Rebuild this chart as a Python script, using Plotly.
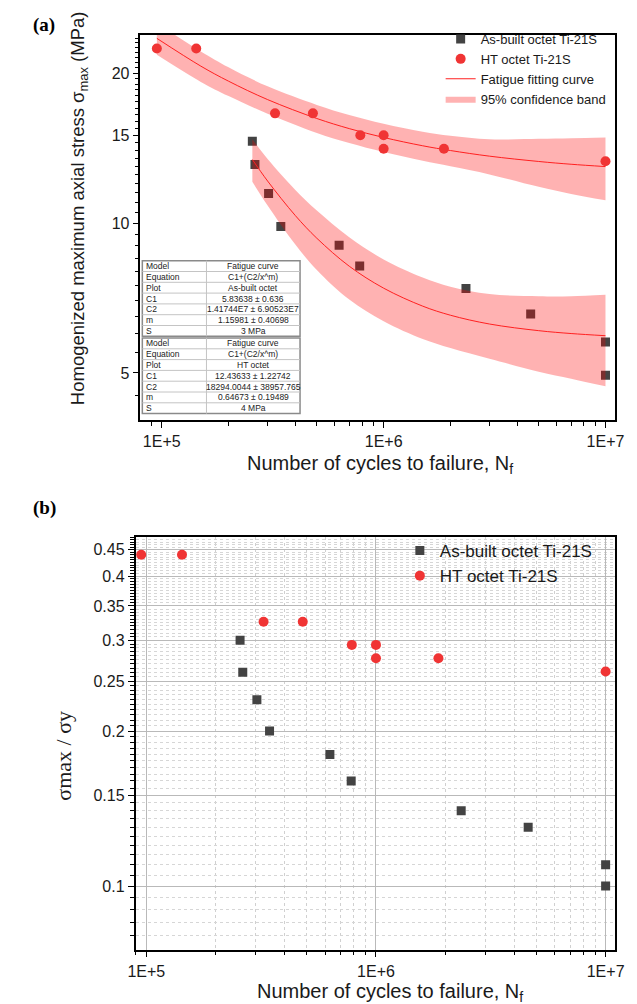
import numpy as np
import plotly.graph_objects as go

# ---------------- data ----------------
# Panel (a): homogenized maximum axial stress (MPa) vs cycles
N_asbuilt = [2.56e5, 2.63e5, 3.03e5, 3.44e5, 6.3e5, 7.8e5, 2.35e6, 4.6e6, 1.0e7, 1.0e7]
S_asbuilt = [14.6, 13.1, 11.46, 9.84, 9.02, 8.2, 7.39, 6.57, 5.77, 4.95]
N_ht = [9.5e4, 1.43e5, 3.24e5, 4.8e5, 7.85e5, 1.0e6, 1.0e6, 1.87e6, 1.0e7]
S_ht = [22.4, 22.4, 16.6, 16.6, 15.0, 15.0, 14.1, 14.1, 13.3]

# fitted curves and 95% confidence bands
Nfit_ab = [2.56e5, 3e5, 4e5, 5e5, 7e5, 1e6, 1.5e6, 2e6, 3e6, 5e6, 7e6, 1e7]
fit_ab = [13.41, 12.14, 10.35, 9.32, 8.19, 7.40, 6.81, 6.53, 6.27, 6.08, 6.00, 5.94]
up_ab = [14.72, 13.44, 11.65, 10.59, 9.36, 8.45, 7.77, 7.45, 7.20, 7.13, 7.13, 7.18]
lo_ab = [12.10, 10.84, 9.05, 8.05, 7.02, 6.35, 5.85, 5.61, 5.34, 5.03, 4.87, 4.70]

Nfit_ht = [9.5e4, 1.5e5, 2e5, 3e5, 5e5, 7e5, 1e6, 1.5e6, 2e6, 3e6, 5e6, 7e6, 1e7]
fit_ht = [23.48, 20.65, 19.26, 17.69, 16.21, 15.47, 14.85, 14.29, 13.98, 13.62, 13.29, 13.12, 12.98]
up_ht = [25.20, 22.10, 20.54, 18.81, 17.26, 16.47, 15.82, 15.25, 14.96, 14.72, 14.76, 14.80, 14.85]
lo_ht = [21.76, 19.20, 17.98, 16.57, 15.16, 14.47, 13.88, 13.33, 13.00, 12.52, 11.82, 11.44, 11.11]

# Panel (b): normalized stress sigma_max / sigma_y
R_asbuilt = [0.300, 0.260, 0.230, 0.200, 0.180, 0.160, 0.140, 0.130, 0.110, 0.100]
R_ht = [0.440, 0.440, 0.326, 0.326, 0.294, 0.294, 0.277, 0.277, 0.261]

# table contents
table_keys = ["Model", "Equation", "Plot", "C1", "C2", "m", "S"]
table_ab = ["Fatigue curve", "C1+(C2/x^m)", "As-built octet", "5.83638 \u00b1 0.636",
            "1.41744E7 \u00b1 6.90523E7", "1.15981 \u00b1 0.40698", "3 MPa"]
table_ht = ["Fatigue curve", "C1+(C2/x^m)", "HT octet", "12.43633 \u00b1 1.22742",
            "18294.0044 \u00b1 38957.765", "0.64673 \u00b1 0.19489", "4 MPa"]

# ticks
x_tickvals = [1e5, 1e6, 1e7]
x_ticktext = ["1E+5", "1E+6", "1E+7"]
x_minor = [m * 10 ** e for e in (4, 5, 6) for m in range(2, 10)]
ya_tickvals = [5, 10, 15, 20]
ya_minor = [v for v in np.arange(4.0, 24.01, 0.5) if v not in ya_tickvals]
yb_tickvals = [0.1, 0.15, 0.2, 0.25, 0.3, 0.35, 0.4, 0.45]
yb_ticktext = ["0.1", "0.15", "0.2", "0.25", "0.3", "0.35", "0.4", "0.45"]
yb_minor = [round(v, 3) for v in np.arange(0.075, 0.4801, 0.005)
            if all(abs(v - t) > 1e-6 for t in yb_tickvals)]

# ---------------- layout helpers ----------------
W, H = 637, 1004
def px(x):
    return x / W
def py(y):
    return 1 - y / H

SQ = "#434343"
RD = "rgb(240,52,52)"
BAND = "rgba(255,0,0,0.30)"
FONT = "Liberation Sans, Arial, sans-serif"
SERIF = "Liberation Serif, Times New Roman, serif"

fig = go.Figure()

# ---- panel (a) ----
fig.add_trace(go.Scatter(x=N_asbuilt, y=S_asbuilt, mode="markers", name="As-built octet Ti-21S",
                         marker=dict(symbol="square", size=9, color=SQ), legendrank=1,
                         xaxis="x", yaxis="y", legend="legend"))
fig.add_trace(go.Scatter(x=Nfit_ab, y=lo_ab, mode="lines", line=dict(width=0, shape="spline"),
                         showlegend=False, xaxis="x", yaxis="y", hoverinfo="skip"))
fig.add_trace(go.Scatter(x=Nfit_ab, y=up_ab, mode="lines", line=dict(width=0, shape="spline"),
                         fill="tonexty", fillcolor=BAND, name="95% confidence band", legendrank=4,
                         xaxis="x", yaxis="y", legend="legend"))
fig.add_trace(go.Scatter(x=Nfit_ht, y=lo_ht, mode="lines", line=dict(width=0, shape="spline"),
                         showlegend=False, xaxis="x", yaxis="y", hoverinfo="skip"))
fig.add_trace(go.Scatter(x=Nfit_ht, y=up_ht, mode="lines", line=dict(width=0, shape="spline"),
                         fill="tonexty", fillcolor=BAND, showlegend=False,
                         xaxis="x", yaxis="y"))
fig.add_trace(go.Scatter(x=Nfit_ab, y=fit_ab, mode="lines", name="Fatigue fitting curve",
                         line=dict(color="#FF2020", width=1, shape="spline"), legendrank=3,
                         xaxis="x", yaxis="y", legend="legend"))
fig.add_trace(go.Scatter(x=Nfit_ht, y=fit_ht, mode="lines", showlegend=False,
                         line=dict(color="#FF2020", width=1, shape="spline"),
                         xaxis="x", yaxis="y"))
fig.add_trace(go.Scatter(x=N_ht, y=S_ht, mode="markers", name="HT octet Ti-21S",
                         marker=dict(symbol="circle", size=10, color=RD), legendrank=2,
                         xaxis="x", yaxis="y", legend="legend"))

# ---- panel (b) ----
fig.add_trace(go.Scatter(x=N_asbuilt, y=R_asbuilt, mode="markers", name="As-built octet Ti-21S",
                         marker=dict(symbol="square", size=9, color=SQ),
                         xaxis="x2", yaxis="y2", legend="legend2"))
fig.add_trace(go.Scatter(x=N_ht, y=R_ht, mode="markers", name="HT octet Ti-21S",
                         marker=dict(symbol="circle", size=10, color=RD),
                         xaxis="x2", yaxis="y2", legend="legend2"))

tickfont = dict(family=FONT, size=16, color="#1a1a1a")
axis_common = dict(type="log", showline=True, linecolor="black", linewidth=1.5, mirror=True,
                   ticks="outside", tickcolor="black", ticklen=6, tickwidth=1,
                   tickfont=tickfont, zeroline=False)

fig.update_layout(
    width=W, height=H, margin=dict(l=0, r=0, t=0, b=0),
    paper_bgcolor="white", plot_bgcolor="white", showlegend=True,
    xaxis=dict(axis_common, domain=[px(128), px(616)], range=[4.9036, 7.041],
               tickmode="array", tickvals=x_tickvals, ticktext=x_ticktext, showgrid=False,
               minor=dict(tickmode="array", tickvals=x_minor, ticks="outside", ticklen=4,
                          tickcolor="black", showgrid=False),
               anchor="y"),
    yaxis=dict(axis_common, domain=[py(412.3), py(26.7)], range=[0.604, 1.378],
               tickmode="array", tickvals=ya_tickvals, ticktext=[str(v) for v in ya_tickvals],
               showgrid=False,
               minor=dict(tickmode="array", tickvals=ya_minor, ticks="outside", ticklen=4,
                          tickcolor="black", showgrid=False),
               anchor="x"),
    xaxis2=dict(axis_common, domain=[px(123), px(616.7)], range=[4.953, 7.042],
                tickmode="array", tickvals=x_tickvals, ticktext=x_ticktext,
                showgrid=True, gridcolor="#b9b9b9", gridwidth=1,
                minor=dict(tickmode="array", tickvals=x_minor, ticks="outside", ticklen=4,
                           tickcolor="black", showgrid=True, gridcolor="#d0d0d0",
                           griddash="dot", gridwidth=1),
                anchor="y2"),
    yaxis2=dict(axis_common, domain=[py(941.7), py(529.3)], range=[-1.1237, -0.3227],
                tickmode="array", tickvals=yb_tickvals, ticktext=yb_ticktext,
                showgrid=True, gridcolor="#b9b9b9", gridwidth=1,
                minor=dict(tickmode="array", tickvals=yb_minor, ticks="outside", ticklen=4,
                           tickcolor="black", showgrid=True, gridcolor="#d6d6d6",
                           griddash="dot", gridwidth=1),
                anchor="x2"),
    legend=dict(x=px(437), y=py(16), xanchor="left", yanchor="top", traceorder="normal",
                bgcolor="rgba(255,255,255,0)", borderwidth=0,
                font=dict(family=FONT, size=13, color="#1a1a1a"), tracegroupgap=0),
    legend2=dict(x=px(395), y=py(525), xanchor="left", yanchor="top", traceorder="normal",
                 bgcolor="rgba(255,255,255,0)", borderwidth=0,
                 font=dict(family=FONT, size=17, color="#1a1a1a")),
)

annotations = []
def ann(text, x, y, size, family=FONT, angle=0, xanchor="center", color="#1a1a1a"):
    annotations.append(dict(text=text, x=px(x), y=py(y), xref="paper", yref="paper",
                            textangle=angle, xanchor=xanchor, yanchor="middle",
                            showarrow=False, font=dict(family=family, size=size, color=color)))

# panel labels
ann("<b>(a)</b>", 15, 17.5, 19, SERIF, xanchor="left", color="black")
ann("<b>(b)</b>", 15, 500, 19, SERIF, xanchor="left", color="black")
# axis titles
ann("Homogenized maximum axial stress \u03c3<sub>max</sub> (MPa)", 65, 200, 18.5, angle=-90)
ann("Number of cycles to failure, N<sub>f</sub>", 375, 456, 20)
ann("\u03c3max / \u03c3y", 48, 748, 22, SERIF, angle=-90)
ann("Number of cycles to failure, N<sub>f</sub>", 385, 984, 20)

shapes = []
# white box behind the lower legend (above grid, below markers)
shapes.append(dict(type="rect", xref="paper", yref="paper", x0=px(395), x1=px(605),
                   y0=py(587), y1=py(540), fillcolor="white", line=dict(width=0),
                   layer="between"))
# tables
tx0, tx1, tcol = 130, 292.3, 196
row_h = 10.8
for ty0, vals in [(252.7, table_ab), (330.0, table_ht)]:
    ty1 = ty0 + row_h * len(table_keys)
    shapes.append(dict(type="rect", xref="paper", yref="paper", x0=px(tx0), x1=px(tx1),
                       y0=py(ty1), y1=py(ty0), fillcolor="white",
                       line=dict(color="#8a8a8a", width=1.5), layer="above"))
    for r in range(1, len(table_keys)):
        yy = ty0 + r * row_h
        shapes.append(dict(type="line", xref="paper", yref="paper", x0=px(tx0), x1=px(tx1),
                           y0=py(yy), y1=py(yy), line=dict(color="#c4c4c4", width=1),
                           layer="above"))
    shapes.append(dict(type="line", xref="paper", yref="paper", x0=px(tcol), x1=px(tcol),
                       y0=py(ty0), y1=py(ty1), line=dict(color="#c4c4c4", width=1),
                       layer="above"))
    for r, (k, v) in enumerate(zip(table_keys, vals)):
        yc = ty0 + (r + 0.5) * row_h
        ann(k, tx0 + 2, yc, 8.5, xanchor="left", color="#222")
        ann(v, (tcol + tx1) / 2, yc, 8.5, color="#222")

fig.update_layout(annotations=annotations, shapes=shapes)

fig.write_html("out.html")
